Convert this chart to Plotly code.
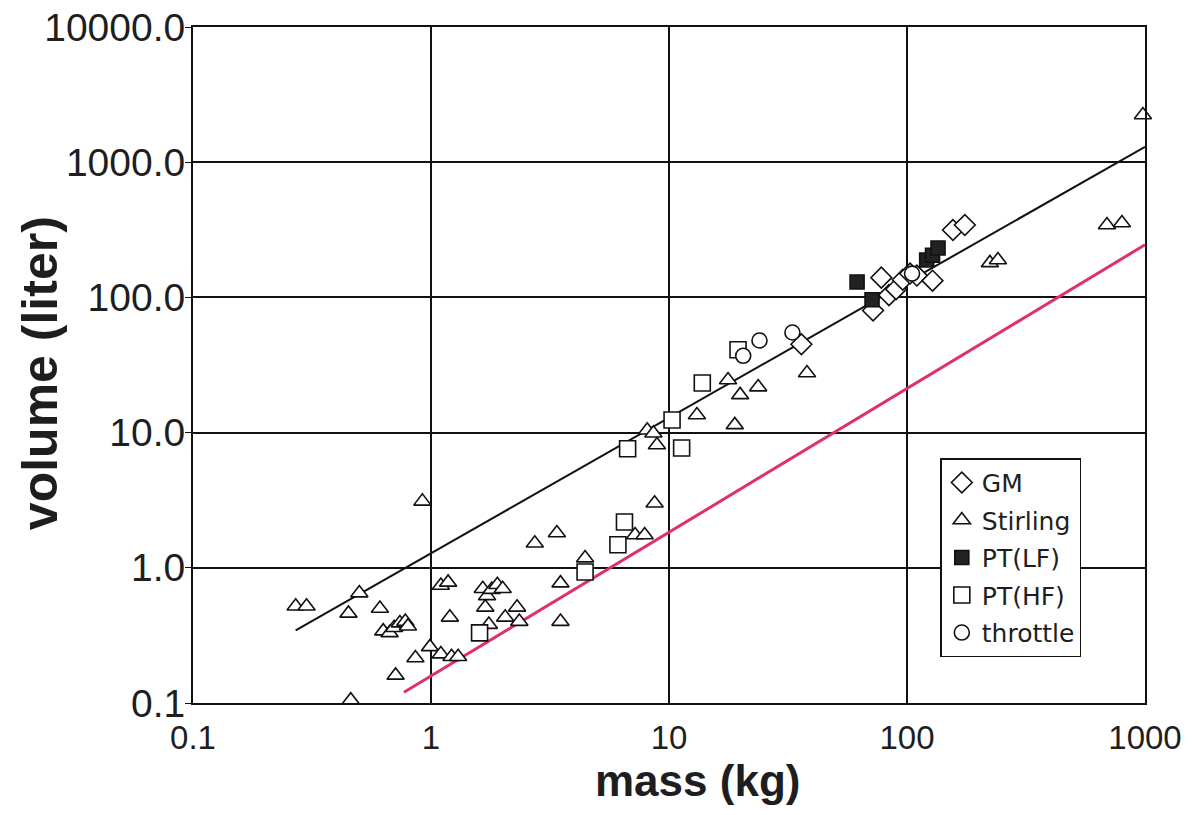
import plotly.graph_objects as go

# ---------------- data ----------------
stirling_mass = [0.27, 0.30, 0.45, 0.50, 0.61, 0.63, 0.67, 0.70, 0.74, 0.78, 0.80, 0.71,
                 0.86, 0.99, 0.92, 0.46, 1.10, 1.18, 1.20, 1.10, 1.22, 1.30, 1.65, 1.72,
                 1.80, 1.90, 2.00, 1.69, 1.75, 2.05, 2.30, 2.35, 2.73, 3.38, 3.5, 3.5,
                 4.44, 7.2, 7.9, 8.7, 8.1, 8.6, 8.9, 13.1, 17.7, 19.9, 18.9, 23.7, 38,
                 223, 241, 692, 800, 980]
stirling_volume = [0.52, 0.52, 0.46, 0.65, 0.50, 0.34, 0.33, 0.36, 0.39, 0.40, 0.37, 0.16,
                   0.215, 0.26, 3.1, 0.105, 0.74, 0.78, 0.43, 0.23, 0.22, 0.22, 0.70, 0.62,
                   0.69, 0.75, 0.70, 0.51, 0.38, 0.43, 0.51, 0.40, 1.52, 1.81, 0.77, 0.40,
                   1.18, 1.75, 1.75, 3.0, 10.4, 9.9, 8.1, 13.5, 24.5, 19.0, 11.4, 21.7, 27.6,
                   180, 189, 343, 355, 2235]

gm_mass = [36, 72, 78, 84, 90, 96, 103, 110, 128, 156, 175]
gm_volume = [45, 80, 140, 104, 115, 135, 150, 145, 133, 315, 343]

ptlf_mass = [61.7, 71.3, 121, 128, 135]
ptlf_volume = [130, 96, 189, 205, 232]

pthf_mass = [1.6, 4.44, 6.1, 6.5, 6.7, 10.3, 11.3, 13.8, 19.5]
pthf_volume = [0.33, 0.93, 1.48, 2.18, 7.6, 12.4, 7.7, 23.3, 41]

throttle_mass = [20.5, 24, 33, 105]
throttle_volume = [37, 48, 55, 150]

fit_mass = [0.27, 1000]
fit_volume = [0.345, 1300]

limit_mass = [0.77, 1000]
limit_volume = [0.12, 245]

x_tickvals = [0.1, 1, 10, 100, 1000]
x_ticktext = ["0.1", "1", "10", "100", "1000"]
y_tickvals = [0.1, 1, 10, 100, 1000, 10000]
y_ticktext = ["0.1", "1.0", "10.0", "100.0", "1000.0", "10000.0"]

FONT = "Liberation Sans, Arial, Helvetica, sans-serif"
LEG_FONT = "DejaVu Sans, Liberation Sans, sans-serif"
INK = "#1e1e1e"

fig = go.Figure()

# fit lines
fig.add_trace(go.Scatter(x=fit_mass, y=fit_volume, mode="lines",
                         line=dict(color="#111111", width=2), showlegend=False,
                         hoverinfo="skip"))
fig.add_trace(go.Scatter(x=limit_mass, y=limit_volume, mode="lines",
                         line=dict(color="#E0306A", width=3), showlegend=False,
                         hoverinfo="skip"))

def add_pts(x, y, name, symbol, size, fill="white"):
    fig.add_trace(go.Scatter(
        x=x, y=y, mode="markers", name=name, legendgroup=name,
        marker=dict(symbol=symbol, size=size, color=fill,
                    line=dict(color="#111111", width=1.6)),
        cliponaxis=False))

add_pts(gm_mass, gm_volume, "GM", "diamond", 16)
add_pts(stirling_mass, stirling_volume, "Stirling", "triangle-up", 15)
add_pts(ptlf_mass, ptlf_volume, "PT(LF)", "square", 14, fill="#222222")
add_pts(pthf_mass, pthf_volume, "PT(HF)", "square", 16)
add_pts(throttle_mass, throttle_volume, "throttle", "circle", 15)

fig.update_layout(
    width=1193, height=815,
    margin=dict(l=193, r=48, t=27, b=112),
    paper_bgcolor="white", plot_bgcolor="white",
    font=dict(family=FONT, color=INK),
    showlegend=True,
    legend=dict(x=0.785, y=0.362, xanchor="left", yanchor="top",
                bgcolor="white", bordercolor="#111111", borderwidth=1.5,
                font=dict(family=LEG_FONT, size=25, color=INK),
                tracegroupgap=2, itemwidth=30),
    xaxis=dict(type="log", range=[-1, 3], tickvals=x_tickvals, ticktext=x_ticktext,
               showgrid=True, gridcolor="#111111", gridwidth=2,
               showline=True, linecolor="#111111", linewidth=2, mirror=True,
               ticks="", ticklabelstandoff=4, zeroline=False, automargin=False,
               ticklabeloverflow="allow",
               tickfont=dict(family=FONT, size=33, color=INK)),
    yaxis=dict(type="log", range=[-1, 4], tickvals=y_tickvals, ticktext=y_ticktext,
               showgrid=True, gridcolor="#111111", gridwidth=2,
               showline=True, linecolor="#111111", linewidth=2, mirror=True,
               ticks="outside", ticklen=6, tickcolor="#111111", zeroline=False,
               ticklabelstandoff=-8, automargin=False, ticklabeloverflow="allow",
               tickfont=dict(family=FONT, size=39, color=INK)),
    annotations=[
        dict(text="<b>mass (kg)</b>", xref="paper", yref="paper",
             x=0.530, y=-0.114, xanchor="center", yanchor="middle", showarrow=False,
             font=dict(family=FONT, size=44, color=INK)),
        dict(text="<b>volume (liter)</b>", xref="paper", yref="paper",
             x=-0.1607, y=0.488, xanchor="center", yanchor="middle", showarrow=False,
             textangle=-90, font=dict(family=FONT, size=50, color=INK)),
    ],
)

fig.write_html("out.html",
               config={"displayModeBar": False},
               post_script="document.body.style.margin='0';"
                           "document.body.style.overflow='hidden';")
